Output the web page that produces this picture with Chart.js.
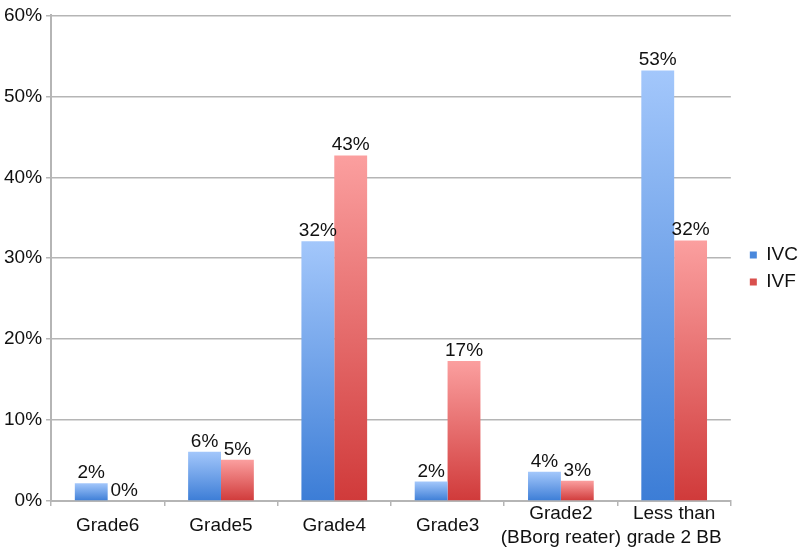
<!DOCTYPE html>
<html>
<head>
<meta charset="utf-8">
<script src="https://cdn.jsdelivr.net/npm/chart.js@4/dist/chart.umd.min.js"></script>
<style>
html,body{margin:0;padding:0;background:#fff;}
#wrap{width:799px;height:549px;position:relative;}
</style>
</head>
<body>
<div id="wrap"><canvas id="c" width="799" height="549"></canvas></div>
<script>
const categories = ["Grade6", "Grade5", "Grade4", "Grade3", ["Grade2", "(BBorg reater)"], ["Less than", "grade 2 BB"]];
const ivc = [2.2, 6.1, 32.1, 2.4, 3.6, 53.2];
const ivf = [0, 5.1, 42.7, 17.3, 2.5, 32.2];
const seriesNames = ["IVC", "IVF"];
const yTicks = [0, 10, 20, 30, 40, 50, 60];

const FONT = "'Liberation Sans', Arial, Helvetica, sans-serif";
const palettes = [
  {top: '#a3c7fb', bottom: '#3c7dd6', solid: '#4a88dc'},
  {top: '#fb9f9f', bottom: '#d03a3a', solid: '#d9504d'}
];

function barGradient(ctx) {
  const p = palettes[ctx.datasetIndex];
  const chart = ctx.chart;
  const y = chart.scales && chart.scales.y;
  if (!y || ctx.parsed === undefined || ctx.parsed === null) return p.solid;
  const top = y.getPixelForValue(ctx.parsed.y);
  const bottom = y.getPixelForValue(0);
  if (!isFinite(top) || !isFinite(bottom) || Math.abs(bottom - top) < 1) return p.solid;
  const g = chart.ctx.createLinearGradient(0, top, 0, bottom);
  g.addColorStop(0, p.top);
  g.addColorStop(1, p.bottom);
  return g;
}

const dataLabels = {
  id: 'dataLabels',
  afterDatasetsDraw(chart) {
    const c = chart.ctx;
    c.save();
    c.font = '19px ' + FONT;
    c.fillStyle = '#111';
    c.textAlign = 'center';
    c.textBaseline = 'alphabetic';
    chart.data.datasets.forEach((ds, di) => {
      const meta = chart.getDatasetMeta(di);
      meta.data.forEach((bar, i) => {
        const v = ds.data[i];
        c.fillText(Math.round(v) + '%', bar.x, bar.y - 5);
      });
    });
    c.restore();
  }
};

const legendShift = {
  id: 'legendShift',
  afterLayout(chart) {
    if (chart.legend) {
      chart.legend.left += 11;
      chart.legend.right += 11;
      chart.legend.top -= 8;
      chart.legend.bottom -= 8;
    }
  }
};

new Chart(document.getElementById('c'), {
  type: 'bar',
  data: {
    labels: categories,
    datasets: [
      {label: seriesNames[0], data: ivc, backgroundColor: barGradient, borderWidth: 0},
      {label: seriesNames[1], data: ivf, backgroundColor: barGradient, borderWidth: 0}
    ]
  },
  options: {
    responsive: false,
    animation: false,
    devicePixelRatio: 1,
    categoryPercentage: 0.58,
    barPercentage: 1.0,
    layout: {padding: {top: 4, right: 2, bottom: 0, left: 0}},
    plugins: {
      tooltip: {enabled: false},
      legend: {
        position: 'right',
        labels: {
          font: {size: 19, family: FONT},
          color: '#111',
          boxWidth: 7,
          boxHeight: 7,
          padding: 8,
          generateLabels(chart) {
            return chart.data.datasets.map((ds, i) => ({
              text: ds.label,
              fillStyle: palettes[i].solid,
              strokeStyle: palettes[i].solid,
              lineWidth: 0,
              hidden: false,
              datasetIndex: i,
              fontColor: '#111'
            }));
          }
        }
      }
    },
    scales: {
      x: {
        grid: {display: true, drawOnChartArea: false, drawTicks: true, tickLength: 5, color: '#b5b5b5', lineWidth: 1.5, offset: true},
        border: {display: true, color: '#b5b5b5', width: 2},
        ticks: {font: {size: 19, family: FONT, lineHeight: 1.25}, color: '#111', padding: 8, maxRotation: 0, autoSkip: false, crossAlign: 'center'},
        afterFit(axis) { axis.height = 48; }
      },
      y: {
        min: 0, max: 60,
        afterBuildTicks(axis) { axis.ticks = yTicks.map(v => ({value: v})); },
        grid: {color: '#b5b5b5', lineWidth: 1.5, tickLength: 5},
        border: {display: true, color: '#b5b5b5', width: 2},
        ticks: {font: {size: 19, family: FONT}, color: '#111', padding: 4, callback: v => v + '%'}
      }
    }
  },
  plugins: [dataLabels, legendShift]
});
</script>
</body>
</html>
